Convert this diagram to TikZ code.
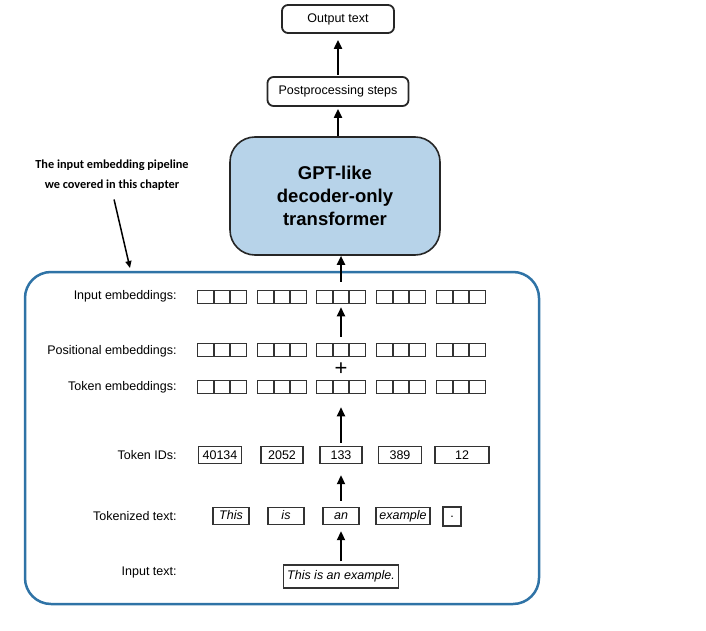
\documentclass[tikz,border=0pt]{standalone}
\usepackage{fontspec}
\setmainfont{Liberation Sans}
\newfontfamily\notefont{Carlito}
\usetikzlibrary{arrows.meta}

\definecolor{frameblue}{RGB}{47,115,166}
\definecolor{gptfill}{RGB}{183,211,233}

\begin{document}
\begin{tikzpicture}[x=1pt, y=-1pt, thick,
			every node/.style={font=\fontsize{12.5}{15}\selectfont, inner sep=0pt},
			lbl/.style={anchor=east},
			top box/.style={draw=black!85, line width=1.8pt, rounded corners=6pt},
			cell/.style={draw=black!80, line width=1.5pt, minimum width=16.3pt, minimum height=13pt},
			tok box/.style={draw=black!80, line width=1.4pt, minimum height=17pt},
			arr/.style={-{Triangle[length=9pt,width=8pt]}, line width=2pt}]
			
			\useasboundingbox (0,0) rectangle (706,631);
			
			% outer frame of the embedding pipeline
			\node[draw=frameblue, line width=2.5pt, rounded corners=26pt,
			minimum width=514pt, minimum height=332pt] (frame) at (282,438) {};
			
			% top part
			\node[top box, minimum width=112pt, minimum height=28pt] (out) at (338,19) {Output text};
			\node[top box, minimum width=141pt, minimum height=29pt] (post) at (338,91.5) {Postprocessing steps};
			\node[draw=black!85, line width=1.6pt, fill=gptfill, rounded corners=25pt,
			minimum width=210pt, minimum height=118pt, align=center,
			font=\bfseries\fontsize{18.5}{23}\selectfont] (gpt) at (335,196) {GPT-like\\decoder-only\\transformer};
			
			% annotation
			\node[font=\notefont\bfseries\fontsize{12.3}{20}\selectfont, align=center] (note) at (112,175)
			{The input embedding pipeline\\we covered in this chapter};
			\coordinate (hit) at (130,268);
			
			% row labels
			\node[lbl] (l-ie) at (177,296) {Input embeddings:};
			\node[lbl] (l-pe) at (177,351) {Positional embeddings:};
			\node[lbl] (l-te) at (177,387) {Token embeddings:};
			\node[lbl] (l-id) at (177,455) {Token IDs:};
			\node[lbl] (l-tk) at (177,516) {Tokenized text:};
			\node[lbl] (l-in) at (177,572) {Input text:};
			
			% embedding vectors
			\foreach \row/\y in {ie/297, pe/350, te/387}
			\foreach \g/\x in {1/222, 2/282, 3/341, 4/401, 5/461}
			\foreach \c in {1,2,3}
			\node[cell] (\row-\g-\c) at ({\x+(\c-2)*16.3},\y) {};
			
			\node[font=\fontsize{22}{22}\selectfont] (plus) at (341,369) {+};
			
			% token IDs
			\foreach \n/\x/\w/\t in {id1/220/43/40134, id2/282/42/2052, id3/341/42/133, id4/400/43/389, id5/462/54/12}
			\node[tok box, minimum width=\w pt] (\n) at (\x,455) {\t};
			
			% tokenized text
			\foreach \n/\x/\w/\t in {tk1/231/36/This, tk2/286/36/is, tk3/341/36/an, tk4/403/54/example}
			\node[tok box, minimum width=\w pt, text height=9pt, text depth=2.5pt,
			font=\itshape\fontsize{12.5}{15}\selectfont] (\n) at (\x,516) {\t};
			\node[tok box, minimum width=18pt, minimum height=19pt] (tk5) at (452,516.5) {.};
			
			% input text
			\node[tok box, minimum width=115pt, minimum height=23pt,
			font=\itshape\fontsize{12.5}{15}\selectfont] (inp) at (341,576.5) {This is an example.};
			
			% connectors
			\path[arr]
			(inp.north) edge[shorten <=3pt, shorten >=6pt] (tk3.south)
			(tk3.north) edge[shorten <=6pt, shorten >=11pt] (id3.south)
			(id3.north) edge[shorten <=3pt, shorten >=13pt] (te-3-2.south)
			(pe-3-2.north) edge[shorten <=6pt, shorten >=3pt] (ie-3-2.north |- ie-3-2.south)
			(ie-3-2.north) edge[shorten <=8pt] (ie-3-2.north |- gpt.south)
			(post.south |- gpt.north) edge[shorten >=2pt] (post.south)
			(out.south |- post.north) edge[shorten <=1pt, shorten >=6pt] (out.south);
			
			\draw[-{Triangle[length=7pt,width=6pt]}, line width=1.5pt, shorten <=9pt] (note.south) -- (hit);
			
		\end{tikzpicture}
\end{document}
